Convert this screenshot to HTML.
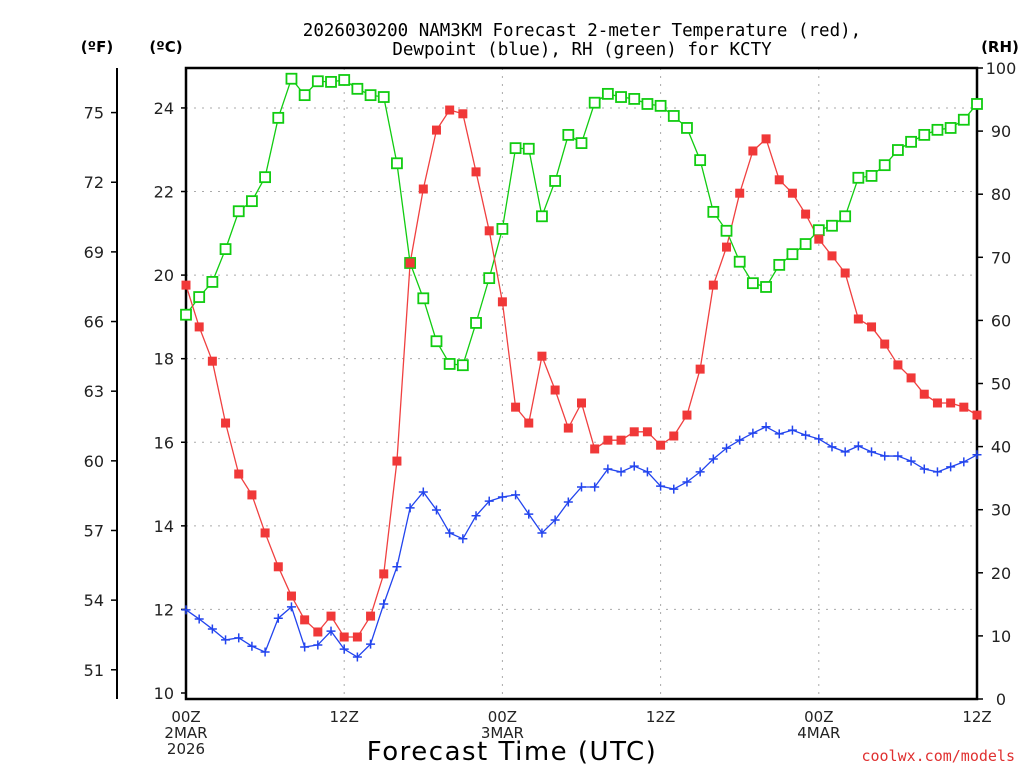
<!DOCTYPE html>
<html><head><meta charset="utf-8"><style>
body{margin:0;background:#fff}
svg{display:block;font-family:"DejaVu Sans","Liberation Sans",sans-serif}
</style></head><body>
<svg id="chart" width="1024" height="768" viewBox="0 0 1024 768" xmlns="http://www.w3.org/2000/svg">
<g id="grid"></g>
<g id="axes"></g>
<g id="series"></g>
<text x="582" y="36" text-anchor="middle" font-size="17.5" font-family="DejaVu Sans Mono, Liberation Mono, monospace">2026030200 NAM3KM Forecast 2-meter Temperature (red),</text>
<text x="582" y="55" text-anchor="middle" font-size="17.5" font-family="DejaVu Sans Mono, Liberation Mono, monospace">Dewpoint (blue), RH (green) for KCTY</text>
<text x="97" y="52" text-anchor="middle" font-size="15" font-weight="bold">(ºF)</text>
<text x="166" y="52" text-anchor="middle" font-size="15" font-weight="bold">(ºC)</text>
<text x="1000" y="52" text-anchor="middle" font-size="15" font-weight="bold">(RH)</text>
<text x="512" y="760" text-anchor="middle" font-size="26" letter-spacing="1.5">Forecast Time (UTC)</text>
<text x="1015" y="761" text-anchor="end" font-size="15" fill="#e03030" font-family="DejaVu Sans Mono, Liberation Mono, monospace">coolwx.com/models</text>
</svg>
<script>
const hours = Array.from({length:61},(_,i)=>i);
const tempC = [19.76,18.76,17.94,16.46,15.24,14.74,13.83,13.02,12.32,11.75,11.46,11.84,11.34,11.34,11.84,12.85,15.55,20.29,22.06,23.47,23.95,23.86,22.47,21.06,19.36,16.84,16.46,18.06,17.25,16.34,16.94,15.84,16.05,16.05,16.25,16.25,15.93,16.15,16.65,17.75,19.76,20.67,21.96,22.97,23.26,22.28,21.96,21.46,20.86,20.46,20.05,18.95,18.76,18.35,17.85,17.54,17.15,16.94,16.94,16.84,16.65];
const dewC = [11.99,11.77,11.53,11.27,11.32,11.12,10.98,11.79,12.06,11.10,11.15,11.48,11.05,10.86,11.17,12.13,13.02,14.43,14.81,14.38,13.83,13.69,14.24,14.59,14.69,14.74,14.28,13.83,14.14,14.57,14.93,14.93,15.36,15.29,15.43,15.29,14.95,14.88,15.05,15.29,15.60,15.86,16.05,16.22,16.37,16.20,16.29,16.17,16.08,15.89,15.77,15.91,15.77,15.67,15.67,15.55,15.36,15.29,15.41,15.53,15.70];
const rh = [60.9,63.7,66.1,71.3,77.3,78.9,82.7,92.1,98.3,95.7,97.9,97.8,98.1,96.7,95.7,95.4,84.9,69.1,63.5,56.7,53.1,52.9,59.6,66.7,74.5,87.3,87.2,76.5,82.1,89.4,88.1,94.5,95.9,95.4,95.1,94.3,94.0,92.4,90.5,85.4,77.2,74.2,69.3,65.9,65.3,68.8,70.5,72.1,74.3,75.0,76.5,82.6,82.9,84.6,87.0,88.3,89.4,90.2,90.5,91.8,94.3];
const cTicks = [10,12,14,16,18,20,22,24];
const fTicks = [51,54,57,60,63,66,69,72,75];
const rhTicks = [0,10,20,30,40,50,60,70,80,90,100];
const xTickHours = [0,12,24,36,48,60];
const xTickLabels = ["00Z","12Z","00Z","12Z","00Z","12Z"];
const xDateLabels = [["2MAR","2026"],[],["3MAR"],[],["4MAR"],[]];

const L=186,R=977,T=68,B=699;
const xS=h=>L+(R-L)*h/60;
const yC=c=>693-(c-10)*41.79;
const yF=f=>yC((f-32)*5/9);
const yR=r=>B-(B-T)*r/100;
const NS="http://www.w3.org/2000/svg";
function mk(tag,attrs,parent){const e=document.createElementNS(NS,tag);for(const k in attrs)e.setAttribute(k,attrs[k]);parent.appendChild(e);return e;}
const grid=document.getElementById('grid'),axes=document.getElementById('axes'),ser=document.getElementById('series');
cTicks.forEach(c=>{if(c>10){const g=mk('line',{x1:L,x2:R,y1:yC(c),y2:yC(c),stroke:'#aaa','stroke-dasharray':'2,6'},grid);

}
const t=mk('line',{x1:L-5,x2:L,y1:yC(c),y2:yC(c),stroke:'#000','stroke-width':1.5},axes);


const tx=mk('text',{x:L-12,y:yC(c)+6,'text-anchor':'end','font-size':16,fill:'#222'},axes);tx.textContent=c;

});
xTickHours.forEach((h,i)=>{if(h>0&&h<60){const g=mk('line',{x1:xS(h),x2:xS(h),y1:T,y2:B,stroke:'#aaa','stroke-dasharray':'2,6'},grid);

}
const tx=mk('text',{x:xS(h),y:722,'text-anchor':'middle','font-size':15,fill:'#222'},axes);tx.textContent=xTickLabels[i];


xDateLabels[i].forEach((d,j)=>{const t2=mk('text',{x:xS(h),y:738+j*16,'text-anchor':'middle','font-size':15,fill:'#222'},axes);t2.textContent=d;

});});
const fl=mk('line',{x1:117,x2:117,y1:T,y2:B,stroke:'#000','stroke-width':2},axes);


fTicks.forEach(f=>{const t=mk('line',{x1:111,x2:117,y1:yF(f),y2:yF(f),stroke:'#000','stroke-width':1.5},axes);


const tx=mk('text',{x:104,y:yF(f)+6,'text-anchor':'end','font-size':16,fill:'#222'},axes);tx.textContent=f;

});
rhTicks.forEach(r=>{const t=mk('line',{x1:R,x2:R+6,y1:yR(r),y2:yR(r),stroke:'#000','stroke-width':1.5},axes);


const tx=mk('text',{x:1001,y:yR(r)+6,'text-anchor':'middle','font-size':16,fill:'#222'},axes);tx.textContent=r;

});
const fr=mk('rect',{x:L,y:T,width:R-L,height:B-T,fill:'none',stroke:'#000','stroke-width':2.5},axes);


function line(vals,yf,color,name){const p=mk('polyline',{points:vals.map((v,i)=>xS(hours[i])+','+yf(v)).join(' '),fill:'none',stroke:color,'stroke-width':1.3},ser);

}
line(rh,yR,'#11cc11','rh-line');
line(tempC,yC,'#f04040','temperature-line');
line(dewC,yC,'#2244ee','dewpoint-line');
rh.forEach((v,i)=>{const m=mk('rect',{x:xS(hours[i])-5,y:yR(v)-5,width:10,height:10,fill:'#fff',stroke:'#11cc11','stroke-width':1.8},ser);

});
tempC.forEach((v,i)=>{const m=mk('rect',{x:xS(hours[i])-4.5,y:yC(v)-4.5,width:9,height:9,fill:'#f03838'},ser);

});
dewC.forEach((v,i)=>{const x=xS(hours[i]),y=yC(v);const m=mk('path',{d:`M${x-4.5},${y}H${x+4.5}M${x},${y-4.5}V${y+4.5}`,stroke:'#2244ee','stroke-width':1.5},ser);

});
</script>
</body></html>
